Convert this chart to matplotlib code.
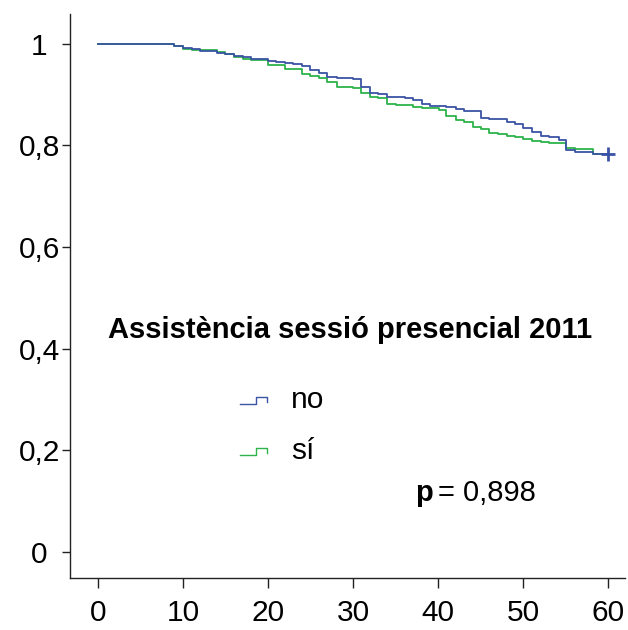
import matplotlib.pyplot as plt
import numpy as np

plt.rcParams['font.family'] = ['Liberation Sans', 'DejaVu Sans']

# months and survival for group "no"
t_no = np.array([0, 8.9, 10.0, 11.0, 12.0, 14.0, 14.9, 16.0, 17.0, 18.0, 19.0, 20.0, 21.0,
                 22.0, 23.0, 24.0, 25.0, 26.0, 27.0, 28.1, 30.0, 31.0, 32.0, 33.0, 34.0,
                 36.1, 37.1, 38.1, 39.1, 41.0, 42.1, 43.1, 45.1, 46.0, 48.1, 49.1, 50.0,
                 51.1, 52.1, 53.1, 54.2, 55.1, 56.1, 58.2, 60.0])
s_no = np.array([1.0, 0.995, 0.9915, 0.989, 0.986, 0.982, 0.980, 0.977, 0.974, 0.971, 0.970,
                 0.967, 0.965, 0.963, 0.961, 0.957, 0.948, 0.942, 0.935, 0.932, 0.930, 0.915,
                 0.904, 0.901, 0.896, 0.893, 0.890, 0.881, 0.878, 0.875, 0.871, 0.867, 0.855,
                 0.852, 0.847, 0.842, 0.835, 0.827, 0.819, 0.817, 0.810, 0.791, 0.788, 0.784,
                 0.784])

# months and survival for group "sí"
t_si = np.array([0, 8.9, 10.0, 11.0, 12.0, 14.0, 14.9, 16.0, 17.0, 18.0, 20.0, 22.0, 24.0,
                 25.0, 26.0, 27.0, 28.1, 30.0, 31.0, 32.0, 33.0, 34.0, 35.1, 37.1, 38.1,
                 40.1, 41.0, 42.1, 43.1, 44.1, 45.1, 46.0, 47.1, 48.1, 49.1, 50.0, 51.1,
                 52.1, 53.1, 55.1, 56.1, 58.2, 60.0])
s_si = np.array([1.0, 0.9955, 0.9895, 0.988, 0.987, 0.984, 0.980, 0.975, 0.970, 0.968, 0.959,
                 0.951, 0.940, 0.937, 0.932, 0.924, 0.915, 0.913, 0.904, 0.896, 0.893, 0.881,
                 0.879, 0.875, 0.873, 0.869, 0.858, 0.850, 0.847, 0.837, 0.832, 0.825, 0.822,
                 0.819, 0.816, 0.812, 0.809, 0.806, 0.804, 0.796, 0.793, 0.784, 0.784])

labels = ['no', 'sí']
colors = ['#3a53a4', '#2db34a']
xticks = [0, 10, 20, 30, 40, 50, 60]
yticks = [0, 0.2, 0.4, 0.6, 0.8, 1]
yticklabels = ['0', '0,2', '0,4', '0,6', '0,8', '1']
title = 'Assistència sessió presencial 2011'
p_text = '0,898'

fig = plt.figure(figsize=(6.28, 6.30), dpi=100)
ax = fig.add_axes([0.1115, 0.0825, 0.8835, 0.8955])

ax.step(t_si, s_si, where='post', color=colors[1], lw=1.3)
ax.step(t_no, s_no, where='post', color=colors[0], lw=1.3)
# censored mark at end of "no"
ax.plot(t_no[-1], s_no[-1], marker='+', color=colors[0], ms=10, mew=2)

ax.set_xlim(-3.3, 62.0)
ax.set_ylim(-0.051, 1.059)
ax.set_xticks(xticks)
ax.set_yticks(yticks)
ax.set_yticklabels(yticklabels, ha='center')
ax.tick_params(direction='out', length=6, width=1, labelsize=21.5, colors='#222222',
               labelcolor='black')
ax.tick_params(axis='y', pad=16)
ax.tick_params(axis='x', length=7, pad=8)
for side in ['top', 'right']:
    ax.spines[side].set_visible(False)
for side in ['left', 'bottom']:
    ax.spines[side].set_color('#222222')
    ax.spines[side].set_linewidth(1)

# title and legend inside the plot
ax.text(29.6, 0.437, title, ha='center', va='center', fontsize=21, fontweight='bold')
icon_x = np.array([240, 256, 256, 267, 267])
icon_y = np.array([4, 4, -3, -3, 2])
for i, (lab, col) in enumerate(zip(labels, colors)):
    yc = 400 + 51 * i
    ax.plot((icon_x - 70) / 555, (578 - (yc + icon_y)) / 564, color=col, lw=1,
            transform=ax.transAxes, clip_on=False)
    ax.text(22.7, 0.299 - 0.1 * i, lab, ha='left', va='center', fontsize=21.5)

tp = ax.text(37.3, 0.116, 'p', ha='left', va='center', fontsize=21, fontweight='bold')
ax.annotate('= ' + p_text, xy=(1, 0.5), xycoords=tp, xytext=(4, 0),
            textcoords='offset points', ha='left', va='center', fontsize=21)

fig.savefig('out.png', dpi=100)
